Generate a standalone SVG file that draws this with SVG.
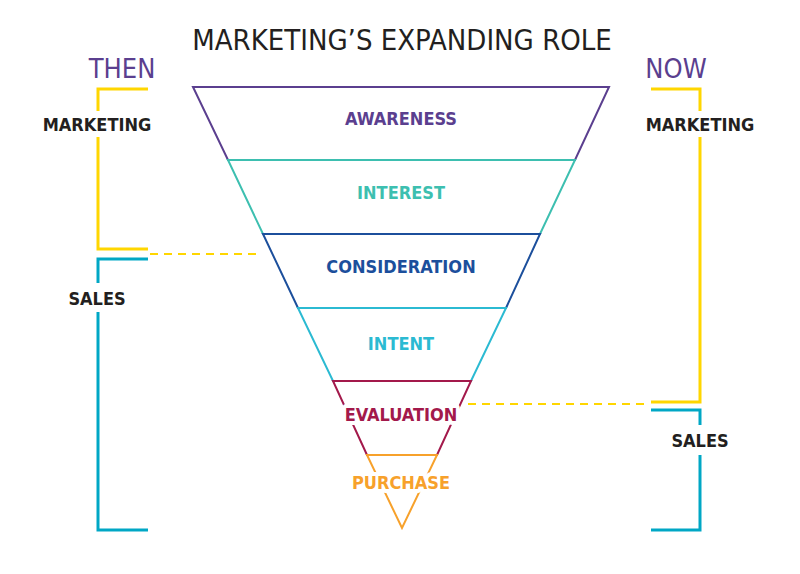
<svg xmlns="http://www.w3.org/2000/svg" width="800" height="574" viewBox="0 0 800 574">
<style>
.lbl{font-family:"DejaVu Sans Condensed","DejaVu Sans",sans-serif;font-weight:bold;font-size:18px;text-anchor:middle;paint-order:stroke;stroke:#fff;stroke-width:8px;stroke-linejoin:round}
.side{font-family:"DejaVu Sans Condensed","DejaVu Sans",sans-serif;font-weight:bold;font-size:18px;text-anchor:middle;fill:#231f20}
.hdr{font-family:"DejaVu Sans Condensed","DejaVu Sans",sans-serif;font-size:27px;text-anchor:middle;fill:#5b3f8f;font-stretch:condensed}
.b{fill:none;stroke-width:3}
</style>
<rect width="800" height="574" fill="#fff"/>
<text x="402" y="50" font-family="DejaVu Sans Condensed,DejaVu Sans,sans-serif" font-size="29" text-anchor="middle" fill="#231f20">MARKETING’S EXPANDING ROLE</text>
<text class="hdr" x="122" y="78">THEN</text>
<text class="hdr" x="676" y="78">NOW</text>
<g id="connectors" fill="none" stroke-width="2">
<line x1="150" y1="254" x2="258" y2="254" stroke="#ffd600" stroke-dasharray="8,6"/>
<line x1="468" y1="404" x2="650" y2="404" stroke="#ffd600" stroke-dasharray="8,6"/>
</g>
<g id="brackets">
<path class="b" stroke="#ffd600" d="M148,89 H98 V111 M98,137 V249 H148"/>
<path class="b" stroke="#00a7c5" d="M148,259 H98 V283 M98,312 V530 H148"/>
<path class="b" stroke="#ffd600" d="M651,89 H700 V111 M700,137 V402 H651"/>
<path class="b" stroke="#00a7c5" d="M651,410 H700 V425 M700,455 V530 H651"/>
<text class="side" x="97" y="131">MARKETING</text>
<text class="side" x="97" y="305">SALES</text>
<text class="side" x="700" y="131">MARKETING</text>
<text class="side" x="700" y="447">SALES</text>
</g>
<g id="awareness"><polygon points="193,87 609,87 575,160 228,160" fill="none" stroke="#5b3f8f" stroke-width="2"/><text class="lbl" x="401" y="125" fill="#5b3f8f">AWARENESS</text></g>
<g id="interest"><polygon points="228,160 575,160 540,234 263,234" fill="none" stroke="#3dbfb0" stroke-width="2"/><text class="lbl" x="401" y="199" fill="#3dbfb0">INTEREST</text></g>
<g id="consideration"><polygon points="263,234 540,234 506,308 298,308" fill="none" stroke="#1c4f9c" stroke-width="2"/><text class="lbl" x="401" y="273" fill="#1c4f9c">CONSIDERATION</text></g>
<g id="intent"><polygon points="298,308 506,308 471,381 333,381" fill="none" stroke="#2bbad2" stroke-width="2"/><text class="lbl" x="401" y="350" fill="#2bbad2">INTENT</text></g>
<g id="evaluation"><polygon points="333,381 471,381 437,455 367,455" fill="none" stroke="#a3194b" stroke-width="2"/><text class="lbl" x="401" y="421" fill="#a3194b">EVALUATION</text></g>
<g id="purchase"><polygon points="367,455 437,455 402,528" fill="none" stroke="#f7a12b" stroke-width="2"/><text class="lbl" x="401" y="489" fill="#f7a12b">PURCHASE</text></g>
</svg>
